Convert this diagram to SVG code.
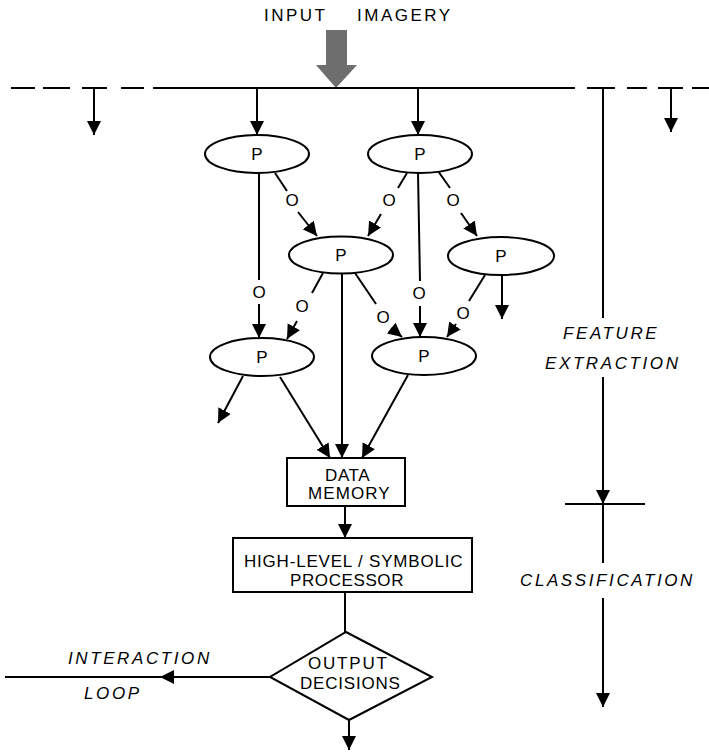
<svg xmlns="http://www.w3.org/2000/svg" width="709" height="753" viewBox="0 0 709 753">
<defs>
<marker id="ah" markerUnits="userSpaceOnUse" markerWidth="15" markerHeight="15" refX="14" refY="7.5" orient="auto">
<path d="M0,0.5 L14,7.5 L0,14.5 z" fill="#000"/>
</marker>
<style>
.ln{stroke:#000;stroke-width:2;fill:none}
.ar{stroke:#000;stroke-width:2;fill:none;marker-end:url(#ah)}
.nd{stroke:#000;stroke-width:2;fill:#fff}
.t{font-family:"Liberation Sans",Arial,sans-serif;font-size:17px;fill:#000}
.it{font-family:"Liberation Sans",Arial,sans-serif;font-size:17px;font-style:italic;letter-spacing:2.6px;fill:#000}
.o{font-family:"Liberation Sans",Arial,sans-serif;font-size:17px;fill:#000;text-anchor:middle}
.p{font-family:"Liberation Sans",Arial,sans-serif;font-size:17px;fill:#000;text-anchor:middle}
</style>
</defs>
<rect width="709" height="753" fill="#fff"/>

<g id="input">
<text class="t" y="21" style="letter-spacing:2.5px"><tspan x="264">INPUT</tspan><tspan x="357">IMAGERY</tspan></text>
<polygon points="326,30 347,30 347,65 357,65 336,88 316,65 326,65" fill="#6e6e6e"/>
</g>

<g id="connectors">
<path class="ln" d="M11,88H35M43,88H70M82,88H107M121,88H144M153,88H575M587,88H615M627,88H647M658,88H683M692,88H709"/>
<line class="ar" x1="94" y1="88" x2="94" y2="135"/>
<line class="ar" x1="671" y1="88" x2="671" y2="132"/>
<line class="ar" x1="257" y1="88" x2="257" y2="135"/>
<line class="ar" x1="418" y1="88" x2="418" y2="135"/>
<line class="ln" x1="275" y1="173" x2="287" y2="191"/>
<line class="ar" x1="298" y1="212" x2="317" y2="236"/>
<line class="ln" x1="407" y1="173" x2="398" y2="188"/>
<line class="ar" x1="381" y1="214" x2="368" y2="236"/>
<line class="ln" x1="438" y1="171" x2="450" y2="188"/>
<line class="ar" x1="461" y1="213" x2="477" y2="236"/>
<line class="ln" x1="418" y1="173" x2="420" y2="281"/>
<line class="ar" x1="420" y1="306" x2="420" y2="337"/>
<line class="ln" x1="259" y1="173" x2="259" y2="280"/>
<line class="ar" x1="259" y1="304" x2="259" y2="338"/>
<line class="ln" x1="323" y1="273" x2="312" y2="293"/>
<line class="ar" x1="297" y1="321" x2="287" y2="339"/>
<line class="ln" x1="355" y1="273" x2="376" y2="304"/>
<line class="ar" x1="391" y1="328" x2="402" y2="337"/>
<line class="ar" x1="342" y1="273" x2="342" y2="458"/>
<line class="ln" x1="485" y1="275" x2="469" y2="301"/>
<line class="ar" x1="456" y1="324" x2="447" y2="337"/>
<line class="ar" x1="502" y1="275" x2="502" y2="319"/>
<line class="ar" x1="243" y1="376" x2="218" y2="423"/>
<line class="ar" x1="280" y1="377" x2="330" y2="458"/>
<line class="ar" x1="408" y1="375" x2="362" y2="458"/>
<line class="ar" x1="345" y1="506" x2="345" y2="538"/>
<line class="ln" x1="345" y1="592" x2="345" y2="632"/>
<line class="ar" x1="349" y1="720" x2="349" y2="750"/>
<line class="ar" x1="270" y1="677" x2="160" y2="677"/>
<line class="ln" x1="160" y1="677" x2="5" y2="677"/>
<line class="ln" x1="603" y1="88" x2="603" y2="318"/>
<line class="ar" x1="603" y1="377" x2="603" y2="504"/>
<line class="ln" x1="565" y1="504" x2="645" y2="504"/>
<line class="ln" x1="603" y1="504" x2="603" y2="563"/>
<line class="ar" x1="603" y1="598" x2="603" y2="707"/>
<text class="o" x="292" y="206">O</text>
<text class="o" x="389" y="206">O</text>
<text class="o" x="453" y="206">O</text>
<text class="o" x="419" y="299">O</text>
<text class="o" x="259" y="298">O</text>
<text class="o" x="302" y="312">O</text>
<text class="o" x="383" y="323">O</text>
<text class="o" x="463" y="319">O</text>
</g>

<g id="nodeA"><ellipse class="nd" cx="257" cy="154" rx="52" ry="19"/><text class="p" x="257" y="160">P</text></g>
<g id="nodeB"><ellipse class="nd" cx="420" cy="154" rx="52" ry="19"/><text class="p" x="420" y="160">P</text></g>
<g id="nodeC"><ellipse class="nd" cx="341" cy="255" rx="52" ry="18.5"/><text class="p" x="341" y="261">P</text></g>
<g id="nodeD"><ellipse class="nd" cx="501" cy="256" rx="53" ry="19"/><text class="p" x="501" y="262">P</text></g>
<g id="nodeE"><ellipse class="nd" cx="262" cy="357" rx="52" ry="19"/><text class="p" x="262" y="363">P</text></g>
<g id="nodeF"><ellipse class="nd" cx="424" cy="356" rx="52" ry="19"/><text class="p" x="424" y="362">P</text></g>

<g id="dataMemory">
<rect class="nd" x="287" y="458" width="118" height="48"/>
<text class="t" x="325" y="481" style="letter-spacing:0.6px">DATA</text>
<text class="t" x="308" y="499" style="letter-spacing:1.1px">MEMORY</text>
</g>

<g id="processor">
<rect class="nd" x="233" y="538" width="239" height="54"/>
<text class="t" x="244" y="567" style="letter-spacing:0.8px">HIGH-LEVEL / SYMBOLIC</text>
<text class="t" x="290" y="586" style="letter-spacing:0.6px">PROCESSOR</text>
</g>

<g id="output">
<polygon class="nd" points="346,632 432,677 349,720 270,677"/>
<text class="t" x="308" y="669" style="letter-spacing:1.8px">OUTPUT</text>
<text class="t" x="300" y="689" style="letter-spacing:0.8px">DECISIONS</text>
</g>

<g id="labels">
<text class="it" x="68" y="664">INTERACTION</text>
<text class="it" x="84" y="699">LOOP</text>
<text class="it" x="563" y="339">FEATURE</text>
<text class="it" x="545" y="369">EXTRACTION</text>
<text class="it" x="520" y="586">CLASSIFICATION</text>
</g>
</svg>
